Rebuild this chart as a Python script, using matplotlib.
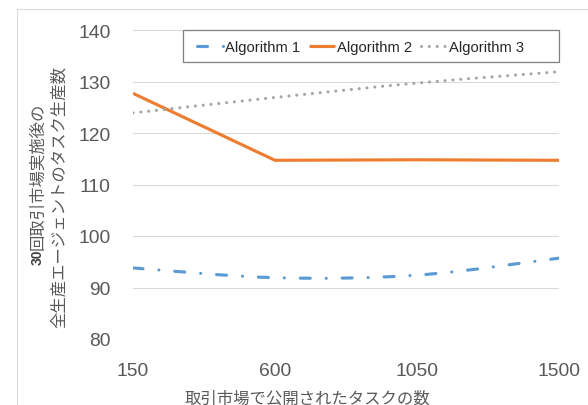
import numpy as np
import matplotlib
matplotlib.use("Agg")
import matplotlib.pyplot as plt
from matplotlib.path import Path
from matplotlib.patches import PathPatch, Rectangle
from matplotlib.lines import Line2D

plt.rcParams['font.family'] = ['Liberation Sans', 'Noto Sans CJK JP', 'DejaVu Sans']

# データ
tasks = [150, 600, 1050, 1500]
alg1 = [93.8, 91.9, 92.4, 95.7]
alg2 = [127.7, 114.7, 114.8, 114.7]
alg3 = [123.9, 126.9, 129.7, 131.9]
labels = ['Algorithm 1', 'Algorithm 2', 'Algorithm 3']
y_ticks = [80, 90, 100, 110, 120, 130, 140]

c_blue = '#5B9BD5'
c_orange = '#ED7D31'
c_gray = '#A5A5A5'
c_text = '#595959'
jp = ['Noto Sans CJK JP', 'DejaVu Sans']


def smooth_path(xs, ys):
    # Excel風の平滑化線（ベジェ曲線）
    pts = np.column_stack([xs, ys]).astype(float)
    ext = np.vstack([pts[0], pts, pts[-1]])
    verts = [pts[0]]
    codes = [Path.MOVETO]
    for i in range(len(pts) - 1):
        p0, p1, p2, p3 = ext[i], ext[i + 1], ext[i + 2], ext[i + 3]
        verts += [p1 + (p2 - p0) / 6, p2 - (p3 - p1) / 6, p2]
        codes += [Path.CURVE4] * 3
    return Path(verts, codes)


W, H = 588, 406
fig = plt.figure(figsize=(W / 100, H / 100), dpi=100)
ax = fig.add_axes([133 / W, 1 - 340 / H, 426 / W, 309 / H])

style1 = dict(color=c_blue, linewidth=2.25, linestyle=(0, (3.2, 5.1, 0.01, 5.1)))
style2 = dict(color=c_orange, linewidth=2.25, linestyle='-')
style3 = dict(color=c_gray, linewidth=2.25, linestyle=(0, (0.01, 2.5)))

p1 = PathPatch(smooth_path(tasks, alg1), fill=False, capstyle='round', joinstyle='round', zorder=3, **style1)
ax.add_patch(p1)
ax.plot(tasks, alg2, solid_joinstyle='miter', solid_capstyle='butt', zorder=3, **style2)
p3 = PathPatch(smooth_path(tasks, alg3), fill=False, capstyle='round', joinstyle='round', zorder=3, **style3)
ax.add_patch(p3)

ax.set_xlim(150, 1500)
ax.set_ylim(80, 140)
ax.set_xticks(tasks)
ax.set_yticks(y_ticks)
ax.grid(axis='y', color='#D9D9D9', linewidth=0.75)
ax.set_axisbelow(True)
for s in ax.spines.values():
    s.set_visible(False)
ax.tick_params(length=0, labelsize=13.9, labelcolor=c_text)
ax.tick_params(axis='y', pad=16)
ax.tick_params(axis='x', pad=16.5)

# 凡例
handles = [
    Line2D([], [], dash_capstyle='round', **style1),
    Line2D([], [], solid_capstyle='butt', **style2),
    Line2D([], [], dash_capstyle='round', **style3),
]
ax.legend(handles, labels, ncol=3, frameon=False, loc='center left',
          bbox_to_anchor=((190 - 133) / 426, 1 - (48 - 31) / 309),
          borderpad=0, handlelength=1.75, handletextpad=0.15, columnspacing=0.6,
          prop={'family': 'Liberation Sans', 'size': 10.6}, labelcolor='#262626')
ax.add_patch(Rectangle(((183 - 133) / 426, 1 - (63 - 31) / 309), (559 - 183) / 426, 32 / 309,
                       transform=ax.transAxes, fill=False, edgecolor='#7F7F7F',
                       linewidth=0.9, clip_on=False, zorder=4))

# 軸ラベル
fig.text(38 / W, 1 - 265 / H, '30', rotation=90, ha='center', va='bottom',
         fontsize=10, fontweight='bold', color='#404040', family=['Liberation Sans'])
fig.text(38 / W, 1 - 250 / H, '回取引市場実施後の', rotation=90, ha='center', va='bottom',
         fontsize=11.8, color=c_text, family=jp)
fig.text(59.5 / W, 1 - 196.5 / H, '全生産エージェントのタスク生産数', rotation=90,
         ha='center', va='center', fontsize=11.8, color=c_text, family=jp)
fig.text(307 / W, 1 - 399 / H, '取引市場で公開されたタスクの数', ha='center', va='center',
         fontsize=11.8, color=c_text, family=jp)

# 枠線
fig.add_artist(Rectangle((16.5 / W, -0.05), (587.5 - 16.5) / W, 1.05 - 10 / H,
                         transform=fig.transFigure, fill=False, edgecolor='#D9D9D9',
                         linewidth=0.75))

fig.savefig('out.png', dpi=100)
